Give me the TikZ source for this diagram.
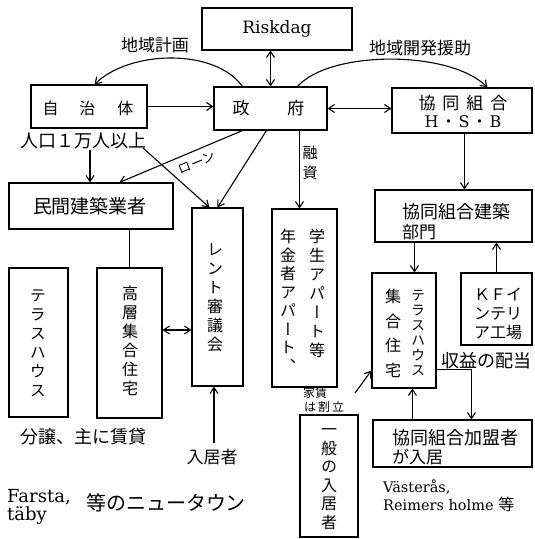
\documentclass[tikz,border=0pt]{standalone}
\usepackage{fontspec}
\setmainfont{DejaVu Serif}
\newfontfamily\jp{Noto Sans CJK JP}
\newfontfamily\vjp[RawFeature=+vert]{Noto Sans CJK JP}
\usetikzlibrary{arrows.meta}
\begin{document}
\begin{tikzpicture}[x=1pt,y=-1pt,
  box/.style={draw, line width=1.1pt, inner sep=0pt},
  jtxt/.style={inner sep=0pt, font=\jp\fontsize{17}{19}\selectfont},
  vtxt/.style={inner sep=0pt, align=center, font=\vjp\fontsize{16}{19}\selectfont},
  ltxt/.style={inner sep=0pt},
  arr/.style={line width=1.1pt, -{Straight Barb[length=6pt,width=8pt]}},
  darr/.style={line width=1.1pt, {Straight Barb[length=6pt,width=8pt]}-{Straight Barb[length=6pt,width=8pt]}},
  ln/.style={line width=1.1pt}]
\useasboundingbox (0,0) rectangle (535,539);

% boxes
\node[box,minimum width=150pt,minimum height=42pt] (risk) at (277,29) {};
\node[box,minimum width=116pt,minimum height=43pt] (jichi) at (89,106.5) {};
\node[box,minimum width=113pt,minimum height=43pt] (seifu) at (270.5,108.5) {};
\node[box,minimum width=140pt,minimum height=45pt] (hsb) at (462,110.5) {};
\node[box,minimum width=164pt,minimum height=46pt] (minkan) at (91,206) {};
\node[box,minimum width=51pt,minimum height=178pt] (rent) at (217.5,297) {};
\node[box,minimum width=65pt,minimum height=178pt] (gakusei) at (304.5,298) {};
\node[box,minimum width=157pt,minimum height=52pt] (kenchiku) at (453.5,216) {};
\node[box,minimum width=64pt,minimum height=115pt] (terrR) at (404,330.5) {};
\node[box,minimum width=71pt,minimum height=72pt] (kf) at (496.5,309) {};
\node[box,minimum width=159pt,minimum height=47pt] (kamei) at (452.5,443.5) {};
\node[box,minimum width=58pt,minimum height=122pt] (ippan) at (329,476) {};
\node[box,minimum width=65pt,minimum height=150pt] (koso) at (129.5,343) {};
\node[box,minimum width=59pt,minimum height=149pt] (terrL) at (38.5,342.5) {};

% box texts
\node[ltxt, font=\fontsize{17}{20}\selectfont] (riskT) at (277,29) {Riskdag};
\node[jtxt, font=\jp\fontsize{16}{19}\selectfont] (jichiT) at (88,108) {自\hspace{21pt}治\hspace{22pt}体};
\node[jtxt] (seifuT) at (268.5,108) {政\hspace{38pt}府};
\node[jtxt] (hsbT1) at (463,103) {協\hspace{7pt}同\hspace{7pt}組\hspace{7pt}合};
\node[ltxt, font=\fontsize{16}{19}\selectfont] (hsbT2) at (463,122) {H\hspace{2pt}{\jp ・}\hspace{2pt}S\hspace{2pt}{\jp ・}\hspace{2pt}B};
\node[jtxt, font=\jp\fontsize{19}{21}\selectfont] (minkanT) at (90,206) {民間建築業者};
\node[vtxt] (rentT) at (215,298) {レ\\ン\\ト\\審\\議\\会};
\node[vtxt, anchor=north] (gakuR) at (317,229) {学\\生\\ア\\パ\\ー\\ト\\等};
\node[vtxt, anchor=north, font=\vjp\fontsize{16}{18.5}\selectfont] (gakuL) at (288,229) {年\\金\\者\\ア\\パ\\ー\\ト\\、};
\node[jtxt, anchor=west, font=\jp\fontsize{18}{20}\selectfont] (kenT1) at (402,212) {協同組合建築};
\node[jtxt, anchor=west, font=\jp\fontsize{17}{20}\selectfont] (kenT2) at (402,232) {部門};
\node[vtxt, anchor=north, font=\vjp\fontsize{14}{15}\selectfont] (terrRT1) at (418,290) {テ\\ラ\\ス\\ハ\\ウ\\ス};
\node[vtxt, anchor=north, font=\vjp\fontsize{16}{24.5}\selectfont] (terrRT2) at (393,289) {集\\合\\住\\宅};
\node[jtxt, align=center, font=\jp\fontsize{16}{19}\selectfont] (kfT) at (498,314) {ＫＦイ\\ンテリ\\ア工場};
\node[jtxt, anchor=west, font=\jp\fontsize{18}{20}\selectfont] (kameiT1) at (392,438) {協同組合加盟者};
\node[jtxt, anchor=west, font=\jp\fontsize{17}{20}\selectfont] (kameiT2) at (392,457) {が入居};
\node[vtxt, font=\vjp\fontsize{16}{18.5}\selectfont] (ippanT) at (329,479) {一\\般\\の\\入\\居\\者};
\node[vtxt] (kosoT) at (130,341) {高\\層\\集\\合\\住\\宅};
\node[vtxt] (terrLT) at (38,343) {テ\\ラ\\ス\\ハ\\ウ\\ス};

% free labels
\node[jtxt] (l1) at (155,45) {地域計画};
\node[jtxt] (l2) at (420,48) {地域開発援助};
\node[jtxt, font=\jp\fontsize{18}{20}\selectfont] (l3) at (83,141) {人口１万人以上};
\node[jtxt, rotate=22, font=\jp\fontsize{13}{16}\selectfont] (l4) at (197,163) {ローン};
\node[vtxt, font=\vjp\fontsize{15}{20}\selectfont] (l5) at (310,163) {融\\資};
\node[jtxt, anchor=west, font=\jp\fontsize{12}{14}\selectfont] (l6a) at (303,393) {家賃};
\node[jtxt, anchor=west, font=\jp\fontsize{12}{14}\selectfont] (l6b) at (304,407) {は\hspace{2pt}割\hspace{2pt}立};
\node[jtxt] (l7) at (212,457) {入居者};
\node[jtxt, font=\jp\fontsize{18}{20}\selectfont] (l8) at (83,437) {分譲、主に賃貸};
\node[ltxt, anchor=base west, font=\fontsize{18}{20}\selectfont] (l9a) at (7,502) {Farsta,};
\node[ltxt, anchor=base west, font=\fontsize{18}{20}\selectfont] (l9b) at (7,520) {täby};
\node[jtxt, font=\jp\fontsize{20}{22}\selectfont] (l10) at (166,503) {等のニュータウン};
\node[ltxt, anchor=base west, font=\fontsize{14.5}{17}\selectfont] (l11a) at (383,492) {Västerås,};
\node[ltxt, anchor=base west, font=\fontsize{14.5}{17}\selectfont] (l11b) at (383,510) {Reimers holme {\jp\fontsize{16}{17}\selectfont 等}};
\node[jtxt, font=\jp\fontsize{18}{20}\selectfont] (l12) at (486,361) {収益の配当};

% connectors
\draw[darr] (risk.south -| seifu.north) -- (seifu.north);
\draw[arr] (jichi.east) -- (jichi.east -| seifu.west);
\draw[darr] (seifu.east) -- (seifu.east -| hsb.west);
\draw[arr] ([xshift=29pt]seifu.north west) .. controls (215,48) and (130,50) .. ([xshift=64pt]jichi.north west);
\draw[arr] ([xshift=-30pt]seifu.north east) .. controls (330,50) and (450,50) .. ([xshift=96pt]hsb.north west);
\coordinate (p1) at (90,150);
\draw[arr] (p1) -- (p1 |- minkan.north);
\draw[arr] ([xshift=29pt]seifu.south west) -- ([xshift=111pt]minkan.north west);
\coordinate (p2) at (143,148);
\draw[arr] (p2) -- ([xshift=18pt]rent.north west);
\draw[arr] ([xshift=53pt]seifu.south west) -- ([xshift=26pt]rent.north west);
\draw[arr] ([xshift=86pt]seifu.south west) -- ([xshift=86pt]seifu.south west |- gakusei.north);
\draw[arr] ([xshift=73pt]hsb.south west) -- ([xshift=73pt]hsb.south west |- kenchiku.north);
\draw[arr] ([xshift=40pt]kenchiku.south west) -- ([xshift=40pt]kenchiku.south west |- terrR.north);
\draw[arr] (kf.north) -- (kf.north |- kenchiku.south);
\draw[ln] (koso.north |- minkan.south) -- (koso.north);
\draw[darr] ([yshift=13pt]koso.east) -- ([yshift=13pt]koso.east -| rent.west);
\coordinate (p3) at (214,443);
\draw[arr] (p3) -- (p3 |- rent.south);
\coordinate (p4) at (355,393);
\draw[arr] (p4) -- ([yshift=-40pt]terrR.west);
\draw[arr] ([yshift=-39pt]terrR.east) -| ([xshift=99pt]kamei.north west);
\draw[arr] ([xshift=40pt]kamei.north west) -- ([xshift=40pt]kamei.north west |- terrR.south);
\end{tikzpicture}
\end{document}
